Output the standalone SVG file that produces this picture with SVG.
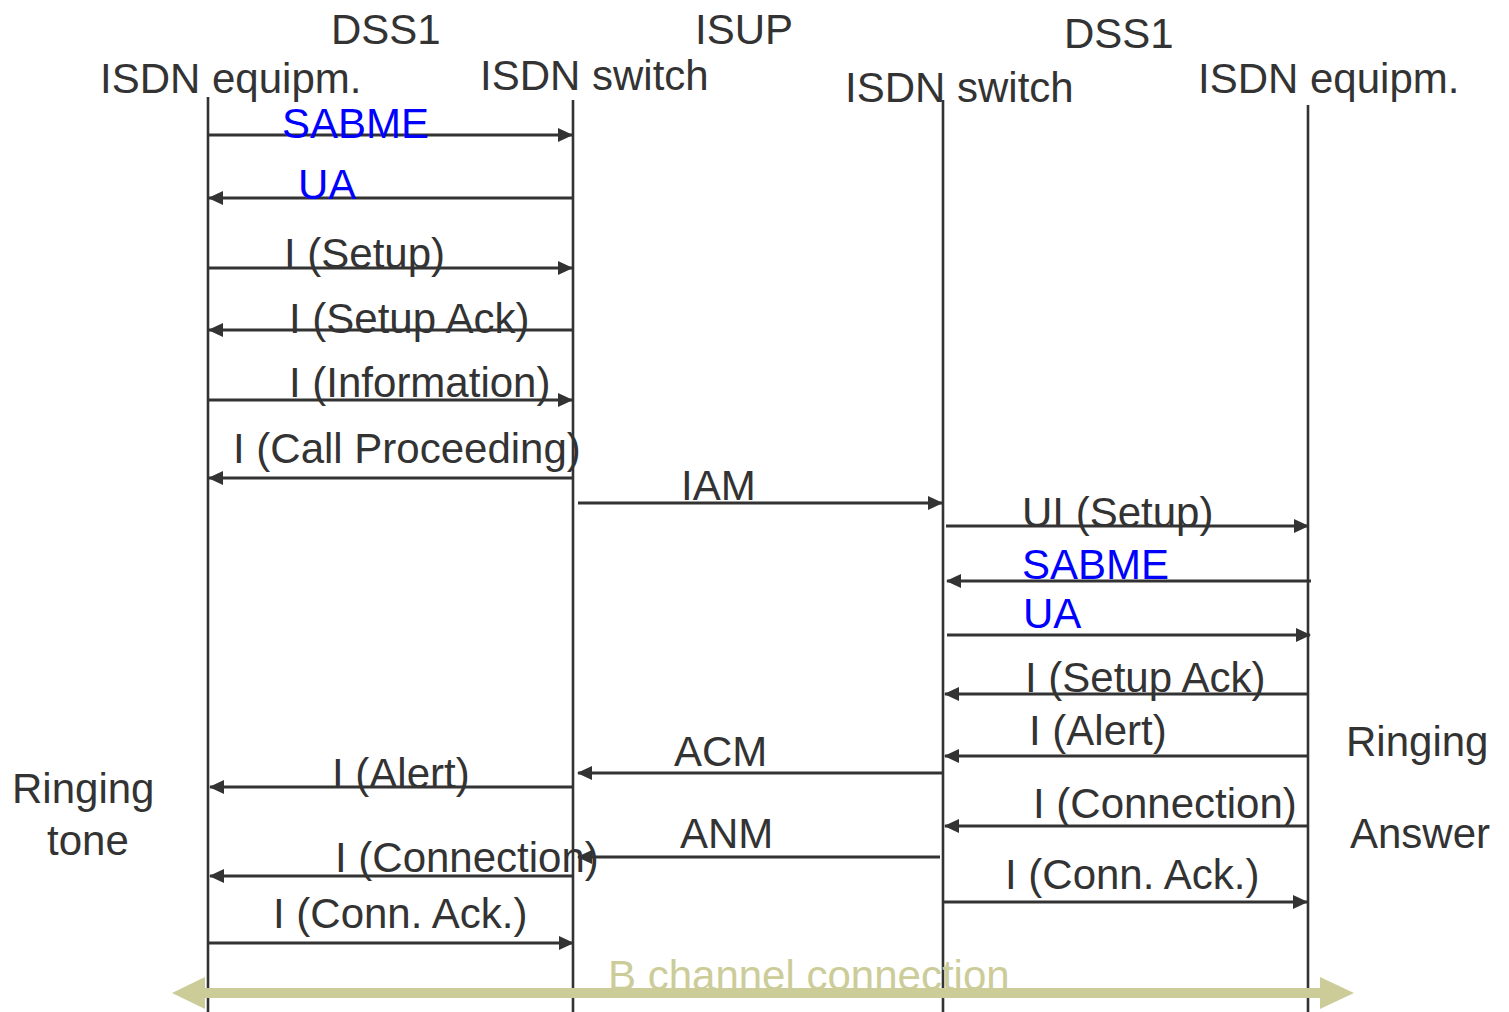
<svg xmlns="http://www.w3.org/2000/svg" width="1509" height="1012" viewBox="0 0 1509 1012">
<style>
text{font-family:"Liberation Sans",Arial,sans-serif;font-size:42px;fill:#333}
.b{fill:#0000ff}
.life{stroke:#333;stroke-width:2.6;fill:none}
.msg{stroke:#333;stroke-width:2.8;fill:none;marker-end:url(#ah)}
.bc{fill:#cccc99}
</style>
<defs>
<marker id="ah" viewBox="0 0 15 14" refX="14" refY="7" markerWidth="15" markerHeight="14" markerUnits="userSpaceOnUse" orient="auto">
<path d="M0,0 L15,7 L0,14 Z" fill="#333"/>
</marker>
</defs>
<rect width="1509" height="1012" fill="#fff"/>
<g id="headers">
<text x="331" y="44">DSS1</text>
<text x="695" y="44">ISUP</text>
<text x="1064" y="48">DSS1</text>
</g>
<g id="node-isdn-equip-left">
<text x="100" y="93">ISDN equipm.</text>
<line class="life" x1="208" y1="97" x2="208" y2="1012"/>
</g>
<g id="node-isdn-switch-left">
<text x="480" y="90">ISDN switch</text>
<line class="life" x1="573" y1="100" x2="573" y2="1012"/>
</g>
<g id="node-isdn-switch-right">
<text x="845" y="102">ISDN switch</text>
<line class="life" x1="943" y1="100" x2="943" y2="1012"/>
</g>
<g id="node-isdn-equip-right">
<text x="1198" y="93">ISDN equipm.</text>
<line class="life" x1="1308" y1="105" x2="1308" y2="1012"/>
</g>
<g id="side-labels">
<text x="12" y="803">Ringing</text>
<text x="47" y="855">tone</text>
<text x="1346" y="756">Ringing</text>
<text x="1350" y="848">Answer</text>
</g>
<g id="connectors">
<line class="msg" x1="208" y1="135" x2="572" y2="135"/>
<line class="msg" x1="573" y1="198" x2="209" y2="198"/>
<line class="msg" x1="208" y1="268" x2="572" y2="268"/>
<line class="msg" x1="573" y1="330" x2="209" y2="330"/>
<line class="msg" x1="208" y1="400" x2="572" y2="400"/>
<line class="msg" x1="573" y1="478" x2="209" y2="478"/>
<line class="msg" x1="578" y1="503" x2="942" y2="503"/>
<line class="msg" x1="946" y1="526" x2="1308" y2="526"/>
<line class="msg" x1="1311" y1="581" x2="947" y2="581"/>
<line class="msg" x1="947" y1="635" x2="1310" y2="635"/>
<line class="msg" x1="1308" y1="694" x2="945" y2="694"/>
<line class="msg" x1="1308" y1="756" x2="945" y2="756"/>
<line class="msg" x1="943" y1="773" x2="578" y2="773"/>
<line class="msg" x1="573" y1="787" x2="210" y2="787"/>
<line class="msg" x1="1308" y1="826" x2="945" y2="826"/>
<line class="msg" x1="940" y1="857" x2="578" y2="857"/>
<line class="msg" x1="573" y1="876" x2="210" y2="876"/>
<line class="msg" x1="943" y1="902" x2="1307" y2="902"/>
<line class="msg" x1="208" y1="943" x2="573" y2="943"/>
</g>
<g id="labels">
<text class="b" x="282" y="138">SABME</text>
<text class="b" x="298" y="199">UA</text>
<text x="284" y="268">I (Setup)</text>
<text x="289" y="333">I (Setup Ack)</text>
<text x="289" y="397">I (Information)</text>
<text x="233" y="463">I (Call Proceeding)</text>
<text x="681" y="500">IAM</text>
<text x="1022" y="527">UI (Setup)</text>
<text class="b" x="1022" y="579">SABME</text>
<text class="b" x="1023" y="628">UA</text>
<text x="1025" y="692">I (Setup Ack)</text>
<text x="1029" y="745">I (Alert)</text>
<text x="674" y="766">ACM</text>
<text x="332" y="788">I (Alert)</text>
<text x="1033" y="818">I (Connection)</text>
<text x="680" y="848">ANM</text>
<text x="335" y="872">I (Connection)</text>
<text x="1005" y="889">I (Conn. Ack.)</text>
<text x="273" y="928">I (Conn. Ack.)</text>
</g>
<g id="b-channel">
<text x="608" y="990" style="fill:#cccc99">B channel connection</text>
<path class="bc" d="M172,993 L205,977 L205,988 L1320,988 L1320,977 L1354,993 L1320,1009 L1320,998 L205,998 L205,1009 Z"/>
</g>
</svg>
